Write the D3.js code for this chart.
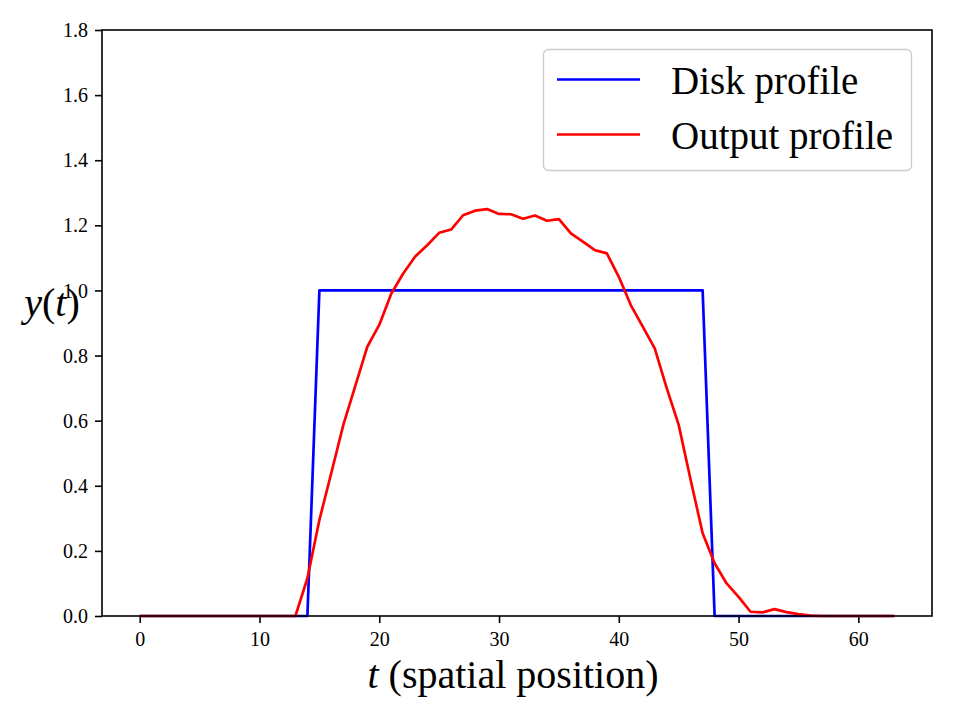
<!DOCTYPE html>
<html>
<head>
<meta charset="utf-8">
<script src="https://cdn.jsdelivr.net/npm/d3@7"></script>
<style>
  body { margin: 0; background: #fff; }
  svg { display: block; font-family: "Liberation Serif", "DejaVu Serif", serif; }
</style>
</head>
<body>
<svg id="chart"></svg>
<script>
// Data: sample index t = 0..63
const tValues = d3.range(0, 64);
const diskProfile = [
  0, 0, 0, 0, 0, 0, 0, 0, 0, 0, 0, 0, 0, 0, 0,
  1, 1, 1, 1, 1, 1, 1, 1, 1, 1, 1, 1, 1, 1, 1, 1, 1, 1, 1, 1, 1, 1, 1, 1, 1, 1, 1, 1, 1, 1, 1, 1, 1,
  0, 0, 0, 0, 0, 0, 0, 0, 0, 0, 0, 0, 0, 0, 0, 0
];
const outputProfile = [
  0, 0, 0, 0, 0, 0, 0, 0, 0, 0, 0, 0, 0, 0,
  0.116, 0.295, 0.44, 0.587, 0.707, 0.827, 0.894, 0.99, 1.052, 1.104, 1.139, 1.177, 1.187, 1.231, 1.245,
  1.25, 1.235, 1.234, 1.220, 1.230, 1.214, 1.219, 1.175, 1.150, 1.124, 1.114, 1.042, 0.955, 0.889, 0.822,
  0.70, 0.587, 0.418, 0.254, 0.162, 0.100, 0.059, 0.013, 0.011, 0.021, 0.012, 0.006, 0.001,
  0, 0, 0, 0, 0, 0, 0
];
const xTicks = [0, 10, 20, 30, 40, 50, 60];
const yTicks = [0, 0.2, 0.4, 0.6, 0.8, 1.0, 1.2, 1.4, 1.6, 1.8];
const seriesNames = ["Disk profile", "Output profile"];
const seriesColors = ["#0000ff", "#ff0000"];

const width = 960, height = 720;
const margin = { left: 102, right: 28, top: 30, bottom: 104 };

const svg = d3.select("#chart").attr("width", width).attr("height", height);

const x = d3.scaleLinear().domain([-3.15, 66.15]).range([margin.left, width - margin.right]);
const y = d3.scaleLinear().domain([0, 1.8]).range([height - margin.bottom, margin.top]);

// Axes
const xAxis = svg.append("g")
    .attr("transform", `translate(0,${height - margin.bottom})`)
    .call(d3.axisBottom(x).tickValues(xTicks).tickFormat(d3.format("d")).tickSize(7).tickSizeOuter(0));
const yAxis = svg.append("g")
    .attr("transform", `translate(${margin.left},0)`)
    .call(d3.axisLeft(y).tickValues(yTicks).tickFormat(d3.format(".1f")).tickSize(7).tickSizeOuter(0));

[xAxis, yAxis].forEach(g => {
    g.select(".domain").remove();
    g.selectAll(".tick line").attr("stroke", "#000").attr("stroke-width", 1.6);
    g.selectAll(".tick text")
        .attr("fill", "#000")
        .attr("font-size", "20px")
        .attr("font-family", "Liberation Serif, serif");
});
xAxis.selectAll(".tick text").attr("y", 30).attr("dy", 0);
yAxis.selectAll(".tick text").attr("x", -14).attr("dy", "0.33em");

// Lines
const line = d3.line().x((d, i) => x(tValues[i])).y(d => y(d));
[diskProfile, outputProfile].forEach((series, i) => {
    svg.append("path")
        .datum(series)
        .attr("fill", "none")
        .attr("stroke", seriesColors[i])
        .attr("stroke-width", 2.7)
        .attr("stroke-linejoin", "round")
        .attr("d", line);
});

// Frame
svg.append("rect")
    .attr("x", margin.left)
    .attr("y", margin.top)
    .attr("width", width - margin.left - margin.right)
    .attr("height", height - margin.top - margin.bottom)
    .attr("fill", "none")
    .attr("stroke", "#000")
    .attr("stroke-width", 1.6);

// Legend
const legend = svg.append("g");
legend.append("rect")
    .attr("x", 543.5).attr("y", 49.5)
    .attr("width", 368).attr("height", 121)
    .attr("rx", 5)
    .attr("fill", "#fff").attr("fill-opacity", 0.8)
    .attr("stroke", "#cccccc").attr("stroke-width", 1.3);
seriesNames.forEach((name, i) => {
    const ly = 79.5 + i * 55;
    legend.append("line")
        .attr("x1", 557).attr("x2", 640)
        .attr("y1", ly).attr("y2", ly)
        .attr("stroke", seriesColors[i]).attr("stroke-width", 2.7);
    legend.append("text")
        .attr("x", 671).attr("y", ly + 14)
        .attr("font-size", "39px")
        .text(name);
});

// Axis labels
const xl = svg.append("text")
    .attr("x", 513).attr("y", 688)
    .attr("text-anchor", "middle")
    .attr("font-size", "40px");
xl.append("tspan").attr("font-style", "italic").text("t");
xl.append("tspan").text(" (spatial position)");

const yl = svg.append("text")
    .attr("x", 52).attr("y", 316)
    .attr("text-anchor", "middle")
    .attr("font-size", "40px");
yl.append("tspan").attr("font-style", "italic").text("y");
yl.append("tspan").text("(");
yl.append("tspan").attr("font-style", "italic").text("t");
yl.append("tspan").text(")");
</script>
</body>
</html>
